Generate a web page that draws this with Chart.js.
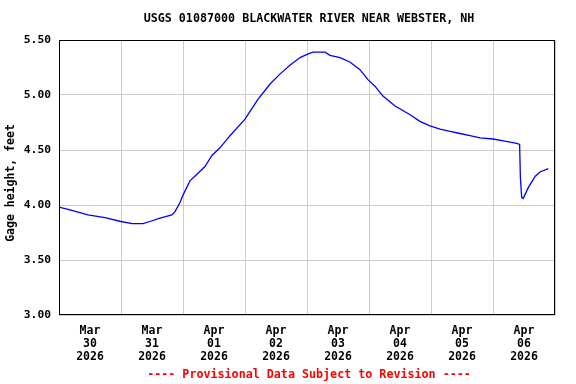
<!DOCTYPE html>
<html>
<head>
<meta charset="utf-8">
<script src="https://cdn.jsdelivr.net/npm/chart.js@4"></script>
<style>
  html, body { margin: 0; padding: 0; background: #fff; }
  #wrap { width: 576px; height: 384px; }
</style>
</head>
<body>
<div id="wrap"><canvas id="gageChart" width="576" height="384"></canvas></div>
<script>
// Hours since Mar 30 2026 00:00, and gage height (feet)
const hours = [0, 3.5, 8.1, 11.2, 17.8, 24, 28.3, 32.5, 35.2, 39.1, 43.7, 44.9, 46.8, 48,
  50.7, 53.4, 56.5, 59.2, 62.3, 66.2, 72, 77, 81.7, 85.5, 89.4, 93.3, 96, 98.3, 103,
  104.9, 108.8, 112.6, 116.5, 119.6, 122.3, 125.4, 130.1, 135.9, 139.7, 143.6, 147.5,
  151.4, 155.2, 159.1, 163, 168, 172.6, 177.2, 178.3, 178.6, 179.1, 179.7, 181.7,
  184.3, 186.2, 189.4];
const gageFeet = [3.98, 3.96, 3.93, 3.91, 3.885, 3.85, 3.83, 3.83, 3.85, 3.88, 3.91, 3.94,
  4.02, 4.09, 4.22, 4.28, 4.35, 4.45, 4.52, 4.63, 4.78, 4.96, 5.10, 5.19, 5.27, 5.34,
  5.37, 5.39, 5.39, 5.36, 5.34, 5.30, 5.23, 5.14, 5.08, 4.99, 4.90, 4.82, 4.76, 4.72,
  4.69, 4.67, 4.65, 4.63, 4.61, 4.60, 4.58, 4.56, 4.55, 4.25, 4.07, 4.06, 4.16, 4.26,
  4.30, 4.33];

// Day labels, shown at noon of each day
const dayMonths = ['Mar', 'Mar', 'Apr', 'Apr', 'Apr', 'Apr', 'Apr', 'Apr'];
const dayNumbers = ['30', '31', '01', '02', '03', '04', '05', '06'];
const dayYear = '2026';

const chartTitle = 'USGS 01087000 BLACKWATER RIVER NEAR WEBSTER, NH';
const yTitle = 'Gage height, feet';
const footerText = '---- Provisional Data Subject to Revision ----';

const monoFont = '"DejaVu Sans Mono", "Liberation Mono", monospace';

let points = hours.map((h, i) => ({ x: h, y: gageFeet[i] }));

// Draws the frame, title, y axis title and footer
const decorations = {
    id: 'decorations',
    afterDraw(chart) {
        const ctx = chart.ctx;
        const area = chart.chartArea;
        const midX = (area.left + area.right) / 2 + 2;
        ctx.save();
        ctx.strokeStyle = '#000';
        ctx.lineWidth = 1;
        ctx.strokeRect(area.left + 0.5, area.top + 0.5, area.right - area.left - 1, area.bottom - area.top - 1);

        ctx.font = 'bold 11.7px ' + monoFont;
        ctx.textAlign = 'center';
        ctx.textBaseline = 'middle';
        ctx.fillStyle = '#000';
        ctx.fillText(chartTitle, midX, 19);

        ctx.fillStyle = '#ff0000';
        ctx.fillText(footerText, midX, 375);

        ctx.fillStyle = '#000';
        ctx.font = 'bold 11.5px ' + monoFont;
        ctx.translate(11, 183);
        ctx.rotate(-Math.PI / 2);
        ctx.fillText(yTitle, 0, 0);
        ctx.restore();
    }
};

let ctx = document.getElementById('gageChart').getContext('2d');
let gageChart = new Chart(ctx, {
    type: 'line',
    data: {
        datasets: [{
            data: points,
            borderColor: '#0000ff',
            borderWidth: 1.3,
            pointRadius: 0,
            fill: false,
            tension: 0
        }]
    },
    options: {
        responsive: false,
        animation: false,
        layout: { padding: { top: 40, right: 21, bottom: 0, left: 0 } },
        plugins: {
            legend: { display: false },
            tooltip: { enabled: false }
        },
        scales: {
            x: {
                type: 'linear',
                min: 0,
                max: 192,
                afterFit: (scale) => { scale.height = 69; },
                afterBuildTicks: (scale) => {
                    let t = [];
                    for (let v = 0; v <= 192; v += 12) t.push({ value: v });
                    scale.ticks = t;
                },
                grid: {
                    color: (c) => (c.tick && c.tick.value % 24 === 0) ? '#cccccc' : 'rgba(0,0,0,0)',
                    lineWidth: 1,
                    drawTicks: false
                },
                border: { display: false },
                ticks: {
                    autoSkip: false,
                    maxRotation: 0,
                    padding: 9,
                    color: '#000',
                    font: { family: monoFont, size: 11.5, weight: 'bold', lineHeight: 1.16 },
                    callback: (v) => {
                        if (v % 24 !== 12) return '';
                        let d = Math.floor(v / 24);
                        return [dayMonths[d], dayNumbers[d], dayYear];
                    }
                }
            },
            y: {
                min: 3,
                max: 5.5,
                afterFit: (scale) => { scale.width = 59; },
                grid: { color: '#cccccc', lineWidth: 1, drawTicks: false },
                border: { display: false },
                ticks: {
                    stepSize: 0.5,
                    padding: 8,
                    color: '#000',
                    font: { family: monoFont, size: 11.3, weight: 'bold' },
                    callback: (v) => v.toFixed(2)
                }
            }
        }
    },
    plugins: [decorations]
});
</script>
</body>
</html>
